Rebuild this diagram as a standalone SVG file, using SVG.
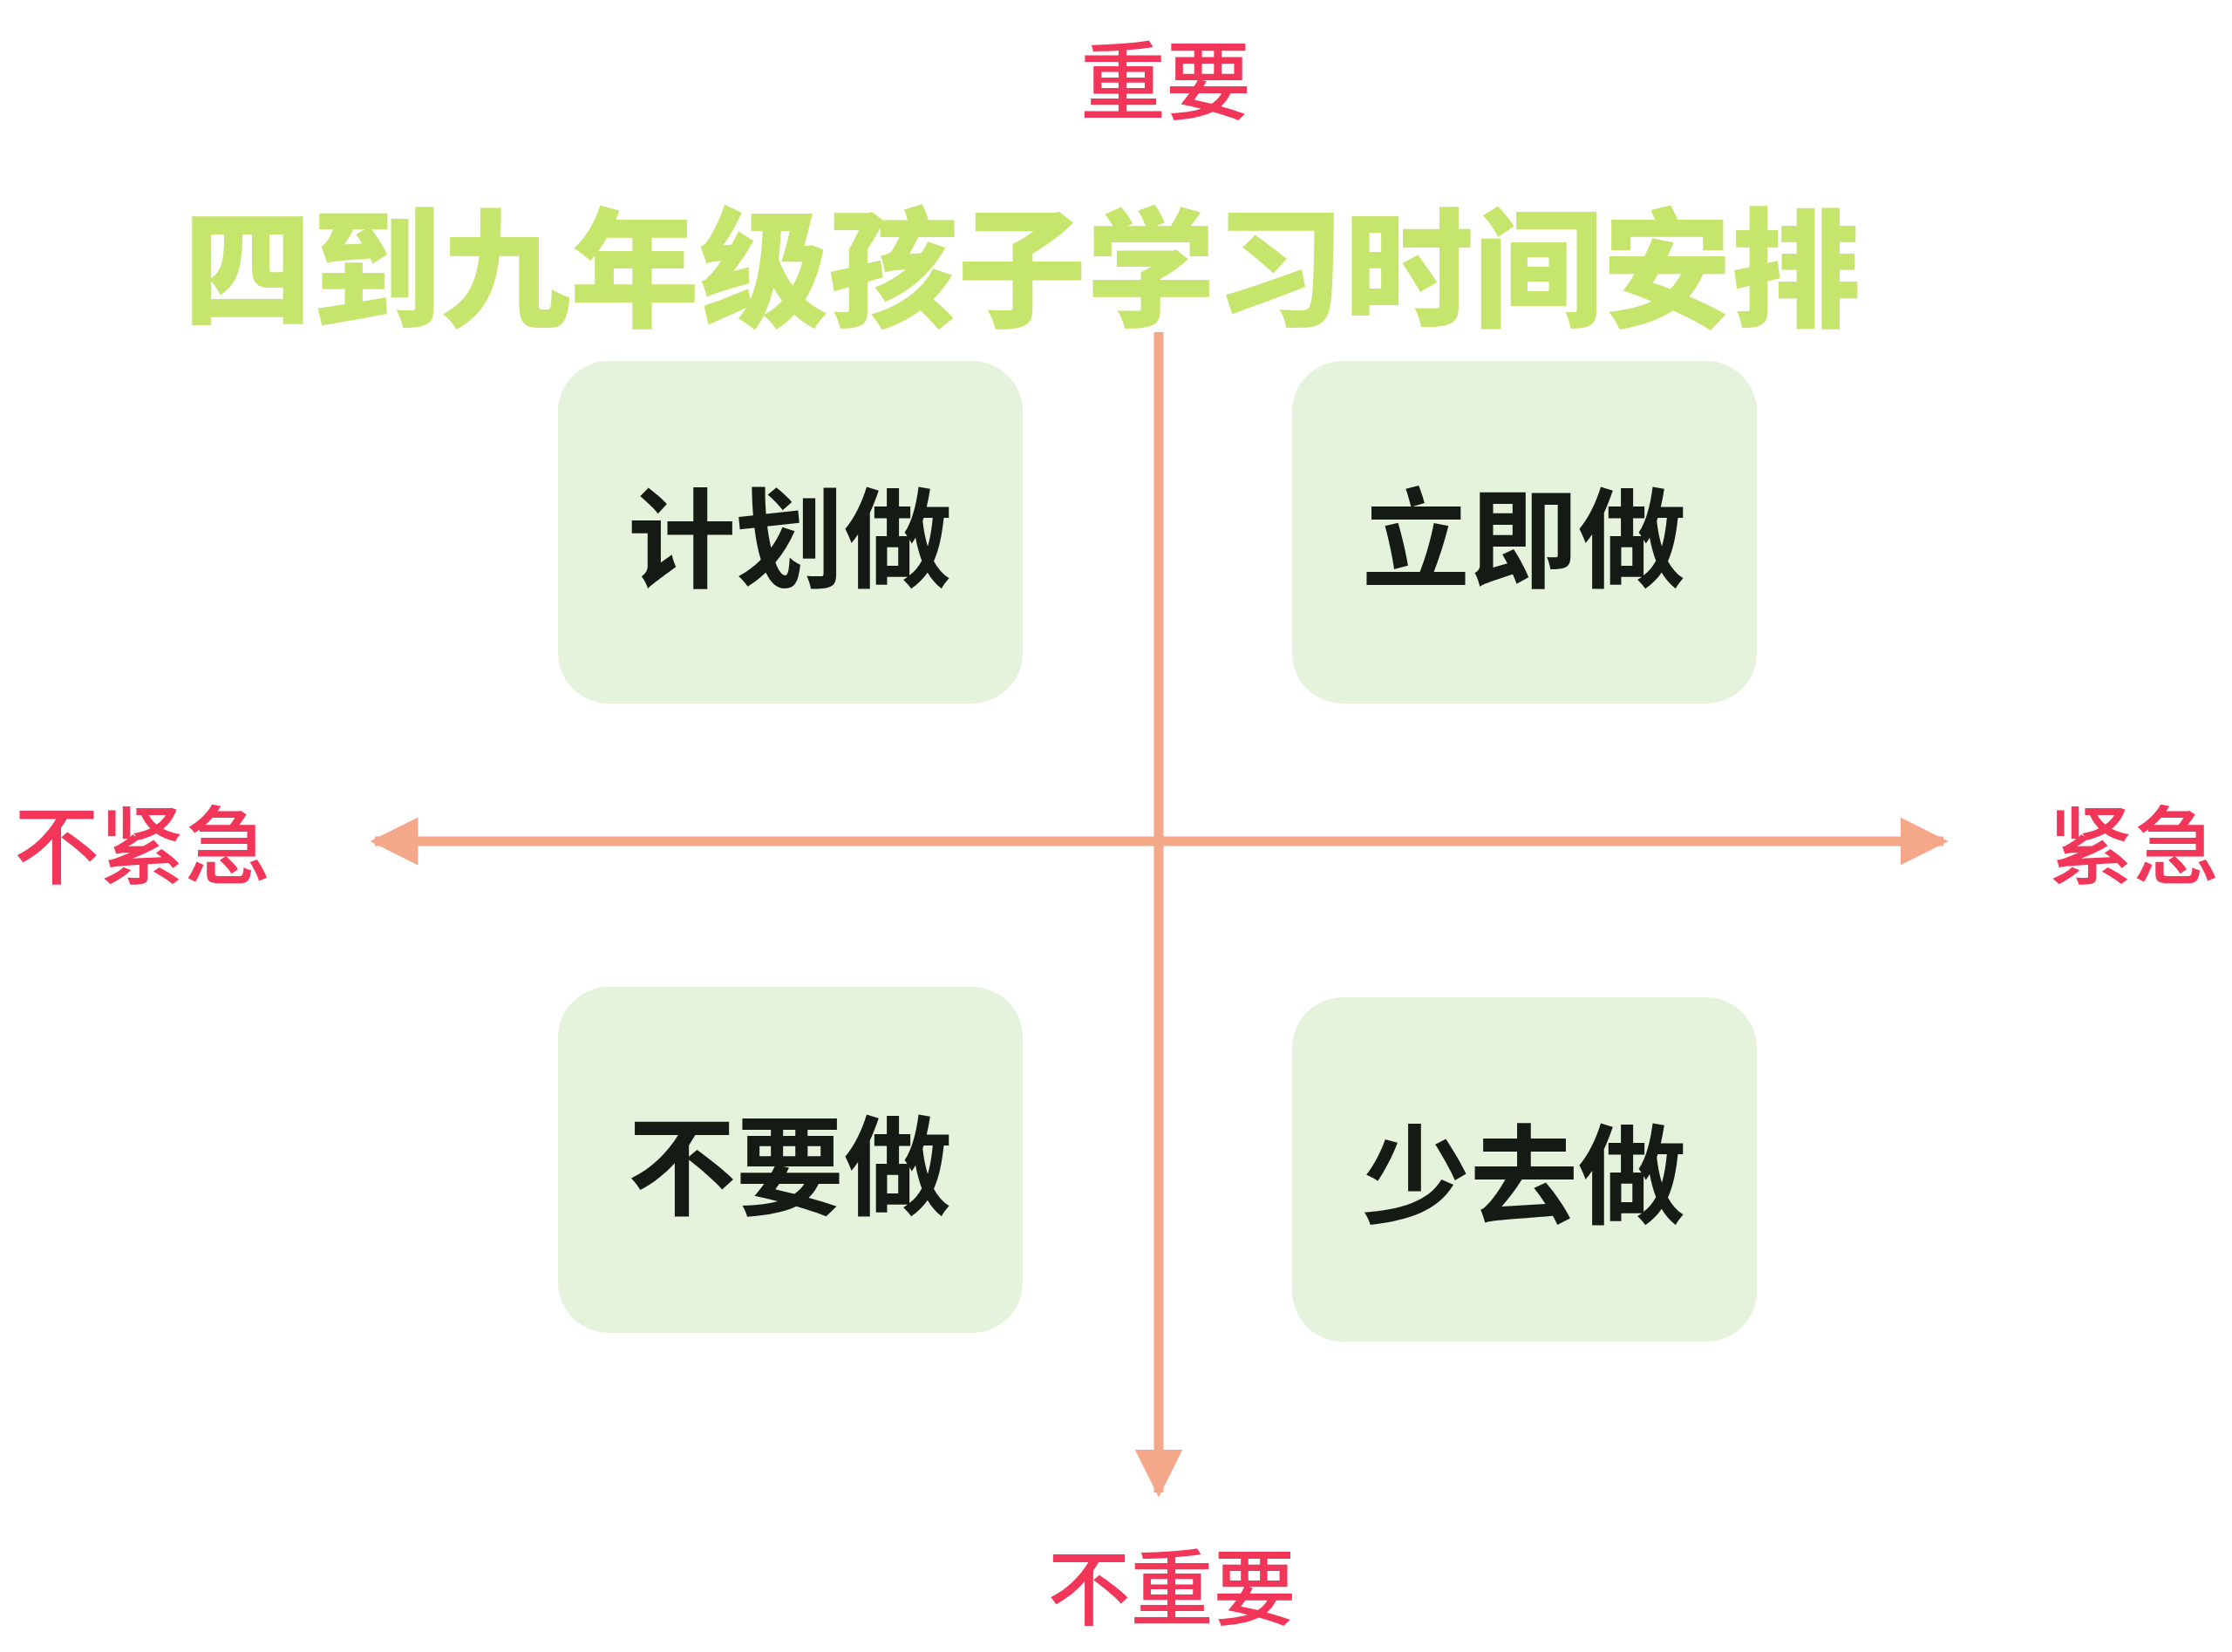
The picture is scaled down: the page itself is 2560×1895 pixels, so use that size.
<svg xmlns="http://www.w3.org/2000/svg" width="2560" height="1895" viewBox="0 0 2560 1895">
<style>
.lbl{font-family:"Noto Sans CJK SC",sans-serif;font-size:98px;fill:#f2365a;text-anchor:middle;dominant-baseline:central;font-weight:500}
.box rect{fill:#e6f3dc}
.box text{font-family:"Noto Sans CJK SC",sans-serif;font-size:124px;font-weight:bold;fill:#151a14;text-anchor:middle;dominant-baseline:central}
.title{font-family:"Noto Sans CJK SC",sans-serif;font-size:148px;font-weight:900;fill:#c6e56c;text-anchor:middle;dominant-baseline:central}
</style>
<defs>
<marker id="ah" viewBox="0 0 10 10" refX="9" refY="5" markerWidth="5" markerHeight="5" orient="auto" markerUnits="strokeWidth"><path d="M0,0 L10,5 L0,10 Z" fill="#f5a78a"/></marker>
</defs>
<rect width="2560" height="1895" fill="#fff"/>
<g id="connectors" stroke="#f5a78a" stroke-width="11" fill="none">
<line x1="1329" y1="381" x2="1329" y2="1712" marker-end="url(#ah)"/>
<line x1="1329" y1="965" x2="430" y2="965" marker-end="url(#ah)"/>
<line x1="1329" y1="965" x2="2229" y2="965" marker-end="url(#ah)"/>
</g>
<g id="title"><text class="title" x="1172" y="298">四到九年级孩子学习时间安排</text></g>
<g id="lbl-top"><text class="lbl" x="1337" y="86">重要</text></g>
<g id="lbl-bottom"><text class="lbl" x="1344" y="1815" style="font-size:95px">不重要</text></g>
<g id="lbl-left"><text class="lbl" x="163" y="963">不紧急</text></g>
<g id="lbl-right"><text class="lbl" x="2447" y="963">紧急</text></g>
<g id="box-tl" class="box"><rect x="640" y="414" width="533" height="393" rx="58"/><text x="906" y="610">计划做</text></g>
<g id="box-tr" class="box"><rect x="1482" y="414" width="533" height="393" rx="58"/><text x="1748" y="610">立即做</text></g>
<g id="box-bl" class="box"><rect x="640" y="1132" width="533" height="397" rx="58"/><text x="906" y="1330">不要做</text></g>
<g id="box-br" class="box"><rect x="1482" y="1144" width="533" height="395" rx="58"/><text x="1748" y="1340">少去做</text></g>
</svg>
